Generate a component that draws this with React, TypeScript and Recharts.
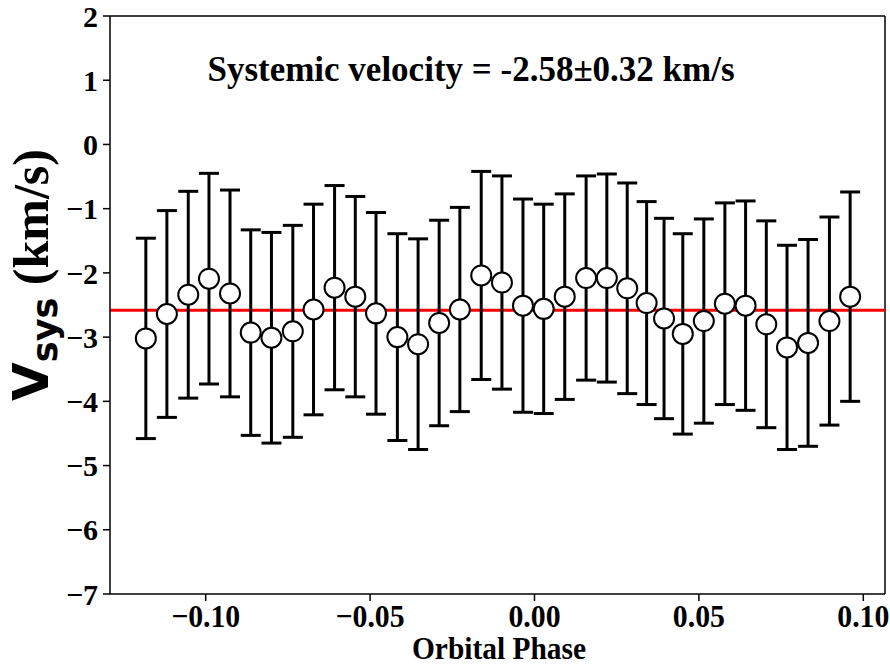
import React from "react";
import {
  ScatterChart,
  Scatter,
  XAxis,
  YAxis,
  ErrorBar,
  ReferenceLine,
} from "recharts";

// Orbital phase of each measurement
const PHASE = [
  -0.1182, -0.1118, -0.1053, -0.099, -0.0926, -0.0863, -0.08, -0.0735,
  -0.0672, -0.0608, -0.0545, -0.0482, -0.0417, -0.0354, -0.029, -0.0227,
  -0.0162, -0.0099, -0.0035, 0.0028, 0.0092, 0.0157, 0.022, 0.0282, 0.0341,
  0.0394, 0.0451, 0.0515, 0.0579, 0.0642, 0.0705, 0.0768, 0.0832, 0.0897,
  0.096,
];

// Systemic velocity (km/s)
const VSYS = [
  -3.02, -2.64, -2.34, -2.09, -2.32, -2.93, -3.01, -2.91, -2.57, -2.23, -2.37,
  -2.63, -3.0, -3.11, -2.78, -2.57, -2.04, -2.15, -2.51, -2.56, -2.37, -2.08,
  -2.08, -2.24, -2.47, -2.71, -2.95, -2.75, -2.48, -2.51, -2.8, -3.16, -3.09,
  -2.75, -2.37,
];

// 1-sigma errors (km/s)
const VERR = [
  1.56, 1.61, 1.61, 1.64, 1.61, 1.6, 1.64, 1.65, 1.64, 1.59, 1.56, 1.57, 1.61,
  1.64, 1.6, 1.59, 1.62, 1.66, 1.66, 1.63, 1.6, 1.59, 1.62, 1.64, 1.58, 1.56,
  1.56, 1.59, 1.57, 1.63, 1.61, 1.59, 1.61, 1.62, 1.63,
];

const MEAN_VSYS = -2.58;
const MEAN_ERR = 0.32;

const X_DOMAIN = [-0.1291, 0.1066];
const Y_DOMAIN = [-7, 2];
const X_TICKS = [-0.1, -0.05, 0, 0.05, 0.1];
const Y_TICKS = [2, 1, 0, -1, -2, -3, -4, -5, -6, -7];

const SERIF = '"Liberation Serif", "Times New Roman", serif';
const SANS = '"DejaVu Sans", sans-serif';

const fmtMinus = (s: string) => s.replace("-", "\u2212");

// tick labels in the original are a bit taller than plain Times bold
const XTick = (props: any) => {
  const { x, y, payload } = props;
  return (
    <text
      transform={`translate(${x},${y}) scale(0.93,1)`}
      textAnchor="middle"
      dy="0.71em"
      fontSize={32}
      fontFamily={SERIF}
      fontWeight="bold"
      fill="#000"
    >
      {fmtMinus(Number(payload.value).toFixed(2))}
    </text>
  );
};

const YTick = (props: any) => {
  const { x, y, payload } = props;
  return (
    <text
      x={x}
      y={y}
      textAnchor="end"
      dy="0.355em"
      fontSize={30}
      fontFamily={SERIF}
      fontWeight="bold"
      fill="#000"
    >
      {fmtMinus(String(payload.value))}
    </text>
  );
};

const Marker = (props: any) => {
  const { cx, cy } = props;
  if (cx == null || cy == null) return null;
  return (
    <circle cx={cx} cy={cy} r={10} fill="#fff" stroke="#000" strokeWidth={2} />
  );
};

export default function App() {
  const data = PHASE.map((p, i) => ({ phase: p, v: VSYS[i], err: VERR[i] }));

  return (
    <div style={{ position: "absolute", left: 0, top: 0, width: 890, height: 666, background: "#fff" }}>
      <ScatterChart
        width={890}
        height={666}
        margin={{ top: 16, right: 5, bottom: 32, left: 0 }}
      >
        <XAxis
          dataKey="phase"
          type="number"
          domain={X_DOMAIN}
          allowDataOverflow
          ticks={X_TICKS}
          interval={0}
          height={40}
          tickSize={7}
          tickMargin={3}
          tick={<XTick />}
          axisLine={{ stroke: "#000", strokeWidth: 1.5 }}
          tickLine={{ stroke: "#000", strokeWidth: 1.5 }}
        />
        <YAxis
          dataKey="v"
          type="number"
          domain={Y_DOMAIN}
          allowDataOverflow
          ticks={Y_TICKS}
          interval={0}
          width={110}
          tickSize={7}
          tickMargin={5}
          tick={<YTick />}
          axisLine={{ stroke: "#000", strokeWidth: 1.5 }}
          tickLine={{ stroke: "#000", strokeWidth: 1.5 }}
        />
        {/* close the frame on top and right */}
        <ReferenceLine y={Y_DOMAIN[1]} stroke="#000" strokeWidth={1.5} />
        <ReferenceLine x={X_DOMAIN[1]} stroke="#000" strokeWidth={1.5} />
        <ReferenceLine y={MEAN_VSYS} stroke="#ff0000" strokeWidth={3} />
        <Scatter data={data} shape={<Marker />} isAnimationActive={false}>
          <ErrorBar
            dataKey="err"
            direction="y"
            width={10}
            stroke="#000"
            strokeWidth={3}
            isAnimationActive={false}
          />
        </Scatter>
      </ScatterChart>
      <svg
        width={890}
        height={666}
        style={{ position: "absolute", left: 0, top: 0, pointerEvents: "none" }}
      >
        <text
          x={471}
          y={81}
          textAnchor="middle"
          fontFamily={SERIF}
          fontWeight="bold"
          fontSize={35}
          fill="#000"
        >
          {`Systemic velocity = ${MEAN_VSYS.toFixed(2)}\u00b1${MEAN_ERR.toFixed(2)} km/s`}
        </text>
        <text
          transform="translate(499, 659) scale(0.95,1)"
          textAnchor="middle"
          fontFamily={SERIF}
          fontWeight="bold"
          fontSize={31}
          fill="#000"
        >
          Orbital Phase
        </text>
        <text
          transform="translate(48, 275) rotate(-90)"
          textAnchor="middle"
          fill="#000"
          fontWeight="bold"
        >
          <tspan fontFamily={SANS} fontSize={50}>V</tspan>
          <tspan fontFamily={SANS} fontSize={35} dy={9}>sys</tspan>
          <tspan fontFamily={SERIF} fontSize={50} dy={-9}> (km/s)</tspan>
        </text>
      </svg>
    </div>
  );
}
